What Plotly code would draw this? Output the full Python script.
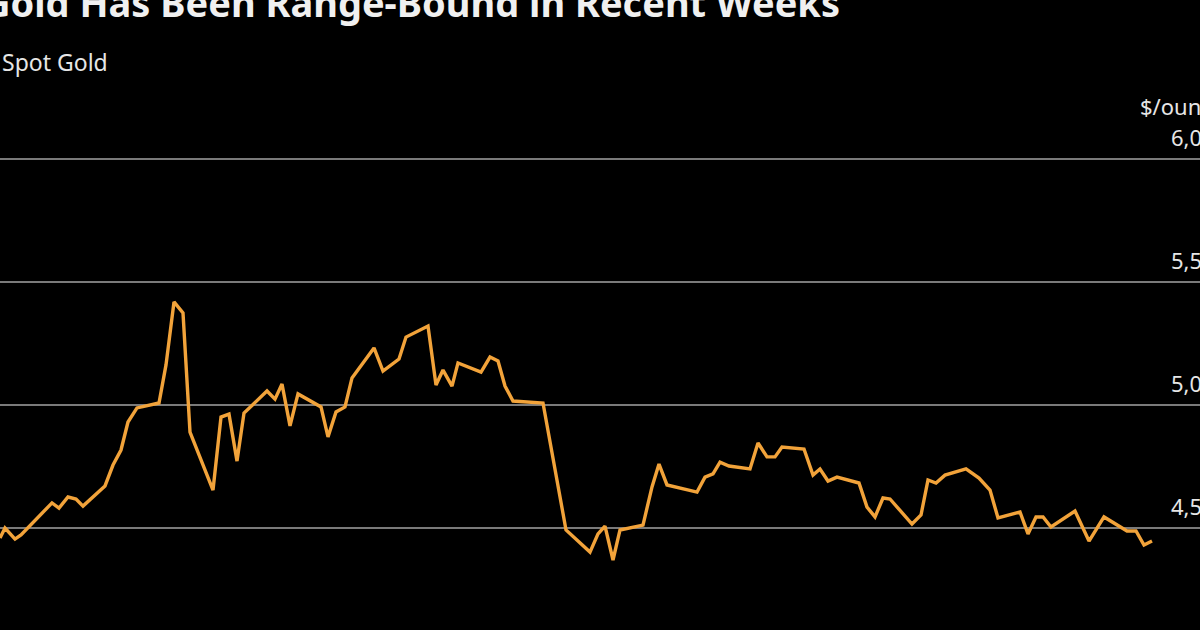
import plotly.graph_objects as go

# approximate day positions and spot gold prices ($/oz)
day_pos = [0,5,15,21,52,59,68,76,83,105,113,121,128,137,159,166,174,183,190,213,221,229,237,244,
           267,275,282,290,298,321,328,336,345,352,374,383,399,406,428,436,443,452,458,481,490,498,
           505,513,543,566,590,598,605,613,620,643,652,659,667,697,705,713,720,729,750,758,767,775,
           782,804,813,820,828,837,859,867,875,883,890,912,921,928,936,945,966,979,990,998,1020,1028,
           1036,1043,1051,1075,1089,1104,1127,1136,1144,1152]
price = [4459,4500,4455,4472,4602,4581,4626,4618,4589,4671,4756,4817,4931,4988,5008,5163,5419,5374,
         4890,4654,4951,4963,4772,4967,5057,5024,5085,4915,5045,4992,4870,4972,4992,5110,5232,5138,
         5187,5276,5321,5081,5142,5077,5171,5134,5195,5179,5077,5016,5008,4492,4402,4476,4508,4370,
         4492,4512,4667,4760,4675,4646,4707,4720,4768,4752,4740,4846,4789,4789,4829,4821,4715,4740,
         4691,4707,4683,4585,4545,4622,4618,4516,4553,4695,4683,4715,4740,4703,4654,4541,4565,4476,
         4545,4545,4504,4569,4447,4545,4488,4488,4431,4447]
y_ticks = [4000, 4500, 5000, 5500, 6000]
y_labels = ["4,000", "4,500", "5,000", "5,500", "6,000"]

W, H = 1200, 630
Y0, Y1 = 4085.4, 6646.3

fig = go.Figure()
fig.add_trace(go.Scatter(x=day_pos, y=price, mode="lines",
                         line=dict(color="#F2A33A", width=3.4), hoverinfo="skip"))

fig.update_layout(
    width=W, height=H, margin=dict(l=0, r=0, t=0, b=0),
    paper_bgcolor="black", plot_bgcolor="black", showlegend=False,
    xaxis=dict(range=[0, W], visible=False, fixedrange=True),
    yaxis=dict(range=[Y0, Y1], tickvals=y_ticks, showticklabels=False,
               showgrid=True, gridcolor="#7a7a7a", gridwidth=1.5, zeroline=False),
    font=dict(family="Noto Sans, sans-serif", color="#e6e6e6"),
)

def ypx_to_paper(px):
    return 1 - px / H

annos = [
    dict(text="<b>Gold Has Been Range-Bound in Recent Weeks</b>", x=842 / W, y=ypx_to_paper(2),
         xanchor="right", yanchor="middle", font=dict(size=38, color="#f0f0f0")),
    dict(text="Spot Gold", x=0 / W, y=ypx_to_paper(62), xanchor="left", yanchor="middle",
         font=dict(size=23, color="#e6e6e6")),
    dict(text="$/ounce", x=1226 / W, y=ypx_to_paper(106), xanchor="right", yanchor="middle",
         font=dict(size=22, color="#e6e6e6")),
]
for v, lab in zip(y_ticks, y_labels):
    annos.append(dict(text=lab, x=1229 / W, y=v, yref="y", yshift=22, xanchor="right",
                      yanchor="middle", font=dict(size=22, color="#e6e6e6")))
for a in annos:
    a.setdefault("xref", "paper")
    a.setdefault("yref", "paper")
    a["showarrow"] = False
fig.update_layout(annotations=annos)

fig.write_html("out.html", config={"staticPlot": True},
               post_script="document.body.style.margin='0';document.body.style.background='black';")
